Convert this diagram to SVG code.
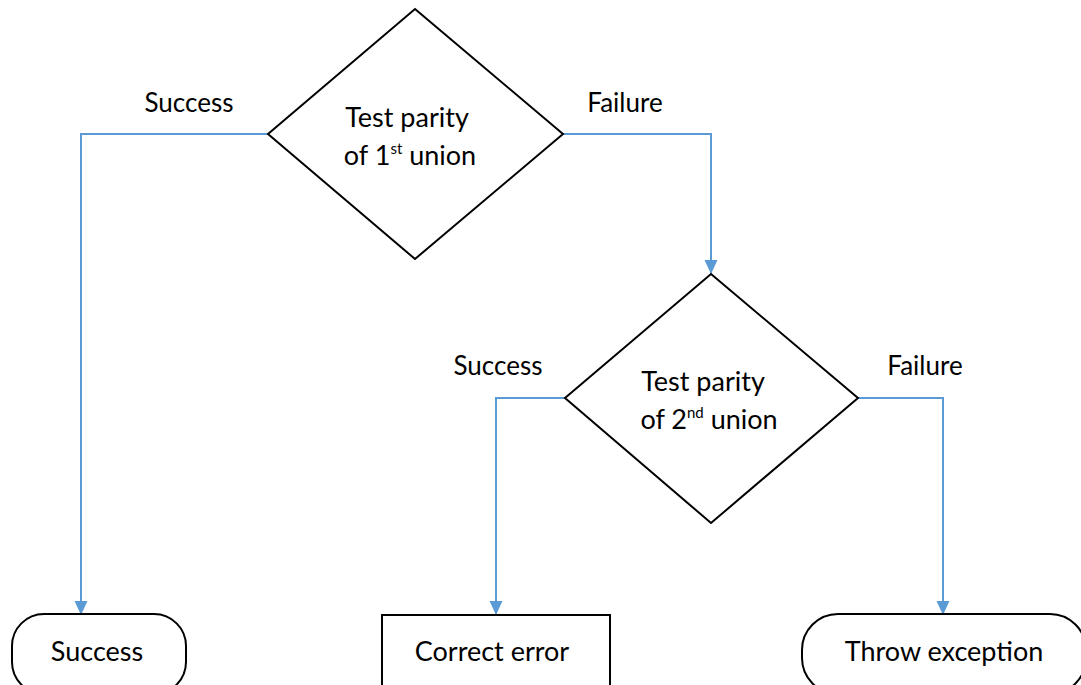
<svg xmlns="http://www.w3.org/2000/svg" width="1081" height="685" viewBox="0 0 1081 685">
<style>
.shape{fill:#fff;stroke:#000;stroke-width:2}
.conn{fill:none;stroke:#5B9BD5;stroke-width:2}
text{font-family:Lato,"Liberation Sans",Arial,sans-serif;font-size:27px;fill:#000;text-anchor:middle}
.lbl{font-size:26px}
.sup{font-size:15px}
</style>
<defs>
<marker id="arr" markerWidth="14" markerHeight="14" refX="13" refY="7" orient="auto" markerUnits="userSpaceOnUse" viewBox="0 0 14 14">
<path d="M0,0.5 L14,7 L0,13.5 Z" fill="#5B9BD5"/>
</marker>
</defs>
<g id="connectors">
<polyline class="conn" points="268,134 81,134 81,614" marker-end="url(#arr)"/>
<polyline class="conn" points="563,134 711,134 711,273" marker-end="url(#arr)"/>
<polyline class="conn" points="565,398 496,398 496,614" marker-end="url(#arr)"/>
<polyline class="conn" points="858,398 943,398 943,614" marker-end="url(#arr)"/>
<text class="lbl" x="189" y="112">Success</text>
<text class="lbl" x="625" y="112">Failure</text>
<text class="lbl" x="498" y="375">Success</text>
<text class="lbl" x="925" y="375">Failure</text>
</g>
<g id="test1">
<polygon class="shape" points="415,9 563,134 415,259 268,134"/>
<text x="407" y="127">Test parity</text>
<text x="410" y="165">of 1<tspan class="sup" dy="-11">st</tspan><tspan dy="11"> union</tspan></text>
</g>
<g id="test2">
<polygon class="shape" points="711,274 858,398 711,523 565,398"/>
<text x="703" y="391">Test parity</text>
<text x="709" y="429">of 2<tspan class="sup" dy="-11">nd</tspan><tspan dy="11"> union</tspan></text>
</g>
<g id="success">
<rect class="shape" x="12" y="614" width="174" height="80" rx="32"/>
<text x="97" y="661">Success</text>
</g>
<g id="correct">
<rect class="shape" x="382" y="615" width="228" height="80"/>
<text x="492" y="661">Correct error</text>
</g>
<g id="throw">
<rect class="shape" x="802" y="614" width="284" height="80" rx="36"/>
<text x="944" y="661">Throw exception</text>
</g>
</svg>
